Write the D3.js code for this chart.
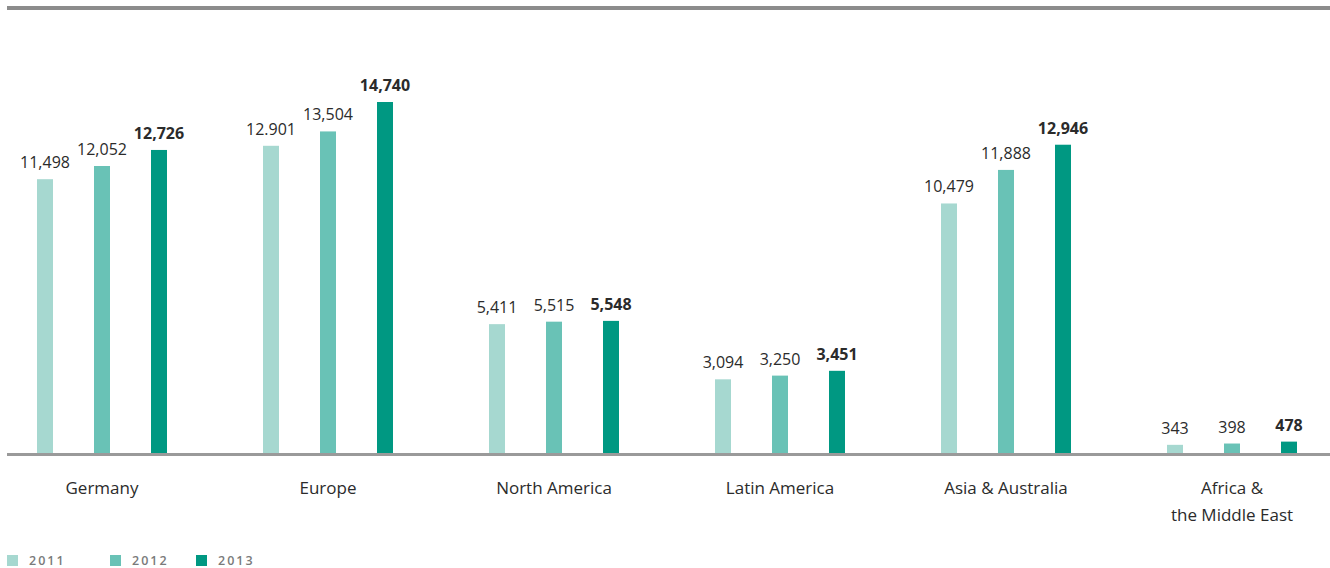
<!DOCTYPE html>
<html>
<head>
<meta charset="utf-8">
<script src="https://cdn.jsdelivr.net/npm/d3@7"></script>
<style>
  html, body { margin: 0; padding: 0; background: #fff; }
  svg { display: block; }
</style>
</head>
<body>
<svg id="chart" width="1330" height="568"></svg>
<script>
// Regions and yearly values
const regions = ["Germany", "Europe", "North America", "Latin America", "Asia & Australia", "Africa &\nthe Middle East"];
const years = ["2011", "2012", "2013"];
const values2011 = [11498, 12901, 5411, 3094, 10479, 343];
const values2012 = [12052, 13504, 5515, 3250, 11888, 398];
const values2013 = [12726, 14740, 5548, 3451, 12946, 478];
const valueLabels2011 = ["11,498", "12.901", "5,411", "3,094", "10,479", "343"];
const valueLabels2012 = ["12,052", "13,504", "5,515", "3,250", "11,888", "398"];
const valueLabels2013 = ["12,726", "14,740", "5,548", "3,451", "12,946", "478"];

const colors = ["#a6d8d0", "#69c2b6", "#009882"];
const font = "'Open Sans', sans-serif";

const svg = d3.select("#chart");
const baseY = 453;

const x0 = d3.scaleBand().domain(regions).range([-11, 1345]).paddingInner(0).paddingOuter(0);
const x1 = d3.scaleBand().domain(years)
  .range([x0.bandwidth() / 2 - 65, x0.bandwidth() / 2 + 65])
  .paddingInner(41 / 57).paddingOuter(0);
const y = d3.scaleLinear().domain([0, 14740]).range([baseY, 102]);

const series = [values2011, values2012, values2013];
const labels = [valueLabels2011, valueLabels2012, valueLabels2013];

const data = [];
regions.forEach((r, i) => {
  years.forEach((yr, j) => {
    data.push({ region: r, year: yr, j, value: series[j][i], label: labels[j][i] });
  });
});

// top rule
svg.append("line")
  .attr("x1", 7).attr("x2", 1330).attr("y1", 8).attr("y2", 8)
  .attr("stroke", "#8c8c8c").attr("stroke-width", 4);

const g = svg.append("g");

g.selectAll("rect.bar").data(data).join("rect")
  .attr("class", "bar")
  .attr("x", d => x0(d.region) + x1(d.year))
  .attr("width", x1.bandwidth())
  .attr("y", d => y(d.value))
  .attr("height", d => baseY - y(d.value))
  .attr("fill", d => colors[d.j]);

g.selectAll("text.val").data(data).join("text")
  .attr("class", "val")
  .attr("x", d => x0(d.region) + x1(d.year) + x1.bandwidth() / 2)
  .attr("y", d => y(d.value) - 11)
  .attr("text-anchor", "middle")
  .attr("font-family", font)
  .attr("font-size", 16)
  .attr("font-weight", d => d.j === 2 ? 700 : 400)
  .attr("fill", "#2b2b2b")
  .text(d => d.label);

// baseline
svg.append("line")
  .attr("x1", 7).attr("x2", 1330).attr("y1", baseY + 1.5).attr("y2", baseY + 1.5)
  .attr("stroke", "#9a9a9a").attr("stroke-width", 3);

// category labels
const cat = svg.append("g").selectAll("text").data(regions).join("text")
  .attr("x", d => x0(d) + x0.bandwidth() / 2)
  .attr("y", 494)
  .attr("text-anchor", "middle")
  .attr("font-family", font)
  .attr("font-size", 17)
  .attr("fill", "#2b2b2b");
cat.each(function(d) {
  const lines = d.split("\n");
  d3.select(this).selectAll("tspan").data(lines).join("tspan")
    .attr("x", x0(d) + x0.bandwidth() / 2)
    .attr("dy", (l, i) => i === 0 ? 0 : 27)
    .text(l => l);
});

// legend
const legendX = [7, 110, 196];
const leg = svg.append("g").selectAll("g").data(years).join("g")
  .attr("transform", (d, i) => `translate(${legendX[i]},555)`);
leg.append("rect").attr("width", 11).attr("height", 11).attr("fill", (d, i) => colors[i]);
leg.append("text")
  .attr("x", 22).attr("y", 10)
  .attr("font-family", font)
  .attr("font-size", 12.5)
  .attr("font-weight", 600)
  .attr("letter-spacing", 2)
  .attr("fill", "#7a7a7a")
  .text(d => d);
</script>
</body>
</html>
